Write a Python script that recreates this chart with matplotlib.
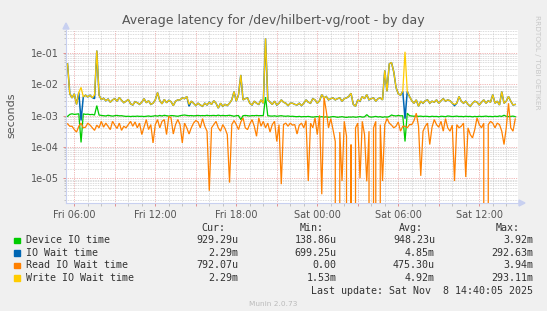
import numpy as np
import matplotlib
matplotlib.use('Agg')
import matplotlib.pyplot as plt
from matplotlib.patches import Rectangle, Polygon
from matplotlib.ticker import FixedLocator, FixedFormatter, NullFormatter

# ---------------- data (seconds), 10-minute samples from Fri 05:30 ----------------
start_hour = 5.5          # Fri 05:30, hours since Fri 00:00
step_hours = 1.0 / 6.0    # 10 minutes

device_io = [
    9.5e-4, 1.1e-3, 1.15e-3, 1.1e-3, 1.12e-3, 1.15e-3, 1.4e-4, 1.15e-3, 1.1e-3, 1.12e-3,
    1.08e-3, 1.1e-3, 1.05e-3, 2.1e-3, 1.05e-3, 1.02e-3, 1.0e-3, 9.8e-4, 1.03e-3, 1.0e-3,
    9.7e-4, 1.0e-3, 1.02e-3, 9.9e-4, 1.0e-3, 9.7e-4, 9.5e-4, 9.6e-4, 9.4e-4, 9.6e-4,
    9.5e-4, 9.7e-4, 9.5e-4, 9.6e-4, 9.4e-4, 9.6e-4, 9.8e-4, 9.5e-4, 9.7e-4, 1.0e-3,
    9.7e-4, 1.02e-3, 9.8e-4, 1.03e-3, 1.0e-3, 9.7e-4, 1.01e-3, 1.0e-3, 9.8e-4, 9.6e-4,
    1.0e-3, 1.03e-3, 1.05e-3, 1.02e-3, 1.0e-3, 1.01e-3, 9.9e-4, 1.0e-3, 1.02e-3, 1.0e-3,
    1.01e-3, 1.0e-3, 1.03e-3, 1.0e-3, 1.01e-3, 1.02e-3, 1.0e-3, 1.04e-3, 1.0e-3, 1.02e-3,
    1.0e-3, 1.01e-3, 1.03e-3, 1.0e-3, 9.6e-4, 1.0e-3, 1.01e-3, 7.5e-4, 1.0e-3, 1.02e-3,
    1.0e-3, 9.8e-4, 1.01e-3, 1.0e-3, 1.02e-3, 1.0e-3, 1.01e-3, 1.0e-3, 3.92e-3, 1.0e-3,
    9.8e-4, 9.7e-4, 9.9e-4, 9.6e-4, 9.8e-4, 1.0e-3, 9.7e-4, 9.6e-4, 9.8e-4, 9.5e-4,
    9.6e-4, 9.4e-4, 9.3e-4, 9.5e-4, 9.2e-4, 9.4e-4, 9.3e-4, 9.5e-4, 9.2e-4, 9.0e-4,
    9.2e-4, 9.4e-4, 9.1e-4, 9.3e-4, 9.0e-4, 9.2e-4, 8.9e-4, 9.1e-4, 9.4e-4, 9.2e-4,
    8.9e-4, 9.1e-4, 9.3e-4, 9.0e-4, 8.8e-4, 9.1e-4, 9.0e-4, 9.2e-4, 8.9e-4, 9.1e-4,
    9.4e-4, 9.0e-4, 9.2e-4, 1.08e-3, 9.3e-4, 9.0e-4, 9.2e-4, 9.5e-4, 9.1e-4, 9.3e-4,
    8.9e-4, 9.2e-4, 9.0e-4, 9.4e-4, 1.05e-3, 1.0e-3, 9.8e-4, 1.02e-3, 9.9e-4, 1.0e-3,
    1.5e-4, 1.2e-3, 1.0e-3, 9.8e-4, 9.6e-4, 9.8e-4, 9.5e-4, 9.7e-4, 9.4e-4, 9.6e-4,
    9.5e-4, 9.3e-4, 9.6e-4, 9.4e-4, 9.5e-4, 9.2e-4, 9.6e-4, 9.5e-4, 9.3e-4, 9.8e-4,
    9.6e-4, 9.4e-4, 9.5e-4, 9.7e-4, 9.4e-4, 9.5e-4, 9.3e-4, 9.6e-4, 9.4e-4, 9.5e-4,
    9.2e-4, 9.5e-4, 9.3e-4, 9.6e-4, 9.4e-4, 9.5e-4, 9.7e-4, 9.4e-4, 9.5e-4, 9.3e-4,
    9.6e-4, 9.4e-4, 9.8e-4, 9.5e-4, 1.03e-3, 9.6e-4, 9.4e-4, 9.5e-4, 9.7e-4, 9.29e-4,
]

io_wait = [
    4.5e-2, 5.0e-3, 3.7e-3, 5.0e-3, 2.3e-3, 5.5e-3, 7.0e-4, 4.0e-3, 4.5e-3, 4.0e-3,
    4.5e-3, 3.8e-3, 3.5e-3, 1.2e-1, 4.5e-3, 3.3e-3, 3.6e-3, 3.0e-3, 3.4e-3, 2.7e-3,
    3.2e-3, 3.5e-3, 2.9e-3, 3.8e-3, 3.1e-3, 2.6e-3, 2.9e-3, 3.3e-3, 2.4e-3, 2.2e-3,
    2.8e-3, 2.6e-3, 2.3e-3, 2.7e-3, 3.5e-3, 2.6e-3, 3.0e-3, 2.3e-3, 2.5e-3, 3.2e-3,
    5.5e-3, 3.0e-3, 2.4e-3, 3.3e-3, 2.6e-3, 3.1e-3, 2.8e-3, 2.1e-3, 2.9e-3, 3.2e-3,
    3.2e-3, 3.7e-3, 3.5e-3, 4.1e-3, 2.0e-3, 2.9e-3, 2.5e-3, 2.1e-3, 2.5e-3, 2.2e-3,
    2.0e-3, 2.5e-3, 2.2e-3, 2.7e-3, 2.3e-3, 3.0e-3, 2.5e-3, 1.75e-3, 2.5e-3, 2.0e-3,
    2.3e-3, 2.1e-3, 2.5e-3, 3.2e-3, 5.9e-3, 2.9e-3, 4.7e-3, 2.0e-2, 3.2e-3, 3.5e-3,
    3.7e-3, 2.5e-3, 2.2e-3, 2.9e-3, 2.5e-3, 2.3e-3, 3.2e-3, 2.5e-3, 2.926e-1, 3.2e-3,
    2.7e-3, 2.3e-3, 2.9e-3, 2.2e-3, 2.5e-3, 3.2e-3, 2.7e-3, 2.5e-3, 2.1e-3, 2.5e-3,
    2.5e-3, 2.3e-3, 2.2e-3, 2.5e-3, 2.1e-3, 2.5e-3, 3.2e-3, 2.7e-3, 2.5e-3, 3.5e-3,
    3.2e-3, 2.5e-3, 3.0e-3, 4.7e-3, 3.7e-3, 4.1e-3, 3.2e-3, 3.5e-3, 3.7e-3, 3.2e-3,
    3.5e-3, 3.7e-3, 2.9e-3, 3.5e-3, 3.7e-3, 4.1e-3, 5.2e-3, 2.3e-3, 2.0e-3, 3.2e-3,
    2.9e-3, 4.1e-3, 3.5e-3, 4.7e-3, 3.2e-3, 3.5e-3, 3.7e-3, 2.9e-3, 3.5e-3, 3.7e-3,
    3.2e-3, 2.8e-2, 6.0e-3, 4.5e-2, 5.0e-2, 2.5e-2, 8.0e-3, 5.0e-3, 4.5e-3, 6.0e-3,
    8.0e-4, 6.0e-3, 4.1e-3, 3.0e-3, 2.5e-3, 3.2e-3, 2.0e-3, 2.9e-3, 2.5e-3, 3.0e-3,
    3.2e-3, 2.5e-3, 2.9e-3, 2.7e-3, 3.2e-3, 2.5e-3, 3.0e-3, 3.5e-3, 2.9e-3, 3.2e-3,
    3.0e-3, 2.5e-3, 2.1e-3, 2.5e-3, 4.1e-3, 2.9e-3, 2.5e-3, 2.9e-3, 2.3e-3, 2.0e-3,
    2.5e-3, 2.9e-3, 2.7e-3, 2.2e-3, 2.7e-3, 3.2e-3, 2.5e-3, 3.0e-3, 2.7e-3, 4.7e-3,
    2.5e-3, 2.9e-3, 2.2e-3, 5.9e-3, 2.5e-3, 2.9e-3, 4.1e-3, 2.9e-3, 2.2e-3, 2.29e-3,
]

read_wait = [
    5.5e-4, 4.6e-4, 4.6e-4, 3.6e-4, 3.0e-4, 4.6e-4, 5.8e-4, 4.1e-4, 4.3e-4, 5.8e-4,
    5.0e-4, 4.1e-4, 3.4e-4, 5.0e-4, 4.1e-4, 6.6e-4, 4.3e-4, 5.8e-4, 4.6e-4, 3.6e-4,
    6.6e-4, 5.0e-4, 3.9e-4, 5.8e-4, 3.4e-4, 4.6e-4, 4.1e-4, 5.2e-4, 6.6e-4, 4.6e-4,
    6.3e-4, 4.1e-4, 5.8e-4, 2.5e-4, 4.3e-4, 7.5e-4, 3.6e-4, 5.2e-4, 1.35e-4, 5.2e-4,
    7.5e-4, 4.1e-4, 6.6e-4, 7.5e-4, 2.5e-4, 9.5e-4, 8.5e-4, 2.6e-4, 5.2e-4, 7.5e-4,
    5.2e-4, 1.35e-4, 5.8e-4, 4.1e-4, 2.6e-4, 4.1e-4, 5.8e-4, 7.0e-4, 6.3e-4, 4.1e-4,
    8.1e-4, 4.6e-4, 3.2e-4, 4.0e-6, 4.1e-4, 5.2e-4, 6.6e-4, 4.1e-4, 3.2e-4, 5.2e-4,
    3.9e-4, 2.5e-4, 7.3e-6, 5.2e-4, 7.0e-4, 5.2e-4, 3.6e-4, 6.3e-4, 8.5e-4, 4.1e-4,
    3.6e-4, 5.4e-4, 7.5e-4, 4.6e-4, 2.2e-4, 8.5e-4, 4.6e-4, 6.6e-4, 4.1e-4, 5.8e-4,
    3.0e-4, 5.2e-4, 6.6e-4, 1.5e-4, 5.2e-4, 6.5e-6, 5.2e-4, 5.8e-4, 4.6e-4, 5.8e-4,
    5.0e-4, 5.2e-4, 2.6e-4, 5.0e-4, 5.8e-4, 4.1e-4, 7.0e-4, 8.2e-6, 5.8e-4, 4.1e-4,
    8.5e-4, 2.5e-4, 1.03e-3, 3.1e-6, 3.94e-3, 1.4e-3, 4.1e-4, 8.1e-4, 3.6e-4, 1.5e-4,
    0.0, 3.0e-4, 8.2e-6, 6.6e-4, 2.2e-4, 0.0, 1.2e-4, 0.0, 4.1e-4, 5.8e-4,
    1.0e-5, 6.6e-4, 2.5e-4, 8.0e-6, 3.2e-4, 0.0, 4.1e-4, 6.6e-4, 0.0, 5.2e-4,
    8.2e-6, 5.2e-4, 8.1e-4, 5.8e-4, 5.0e-4, 4.1e-4, 4.6e-4, 6.3e-4, 3.2e-4, 4.6e-4,
    4.6e-4, 4.1e-4, 5.2e-4, 5.2e-4, 7.0e-4, 1.2e-3, 4.6e-4, 1.2e-5, 3.2e-4, 4.6e-4,
    5.8e-4, 1.2e-4, 4.3e-4, 7.5e-4, 5.2e-4, 4.3e-4, 6.6e-4, 3.2e-4, 8.1e-4, 4.1e-4,
    3.2e-4, 5.0e-4, 8.2e-6, 5.2e-4, 4.1e-4, 4.6e-4, 5.8e-4, 1.1e-5, 4.1e-4, 2.5e-4,
    1.95e-4, 3.6e-4, 8.5e-4, 5.2e-4, 4.1e-4, 5.8e-4, 0.0, 5.2e-4, 6.6e-4, 5.8e-4,
    4.1e-4, 5.8e-4, 5.2e-4, 3.2e-4, 1.2e-4, 4.1e-4, 2.5e-3, 4.1e-4, 3.2e-4, 7.9e-4,
]

write_wait = [
    4.5e-2, 5.0e-3, 3.7e-3, 5.0e-3, 2.3e-3, 5.5e-3, 8.0e-3, 4.0e-3, 4.5e-3, 4.0e-3,
    4.5e-3, 3.8e-3, 4.6e-3, 1.2e-1, 4.5e-3, 3.3e-3, 3.6e-3, 3.0e-3, 3.4e-3, 2.7e-3,
    3.2e-3, 3.5e-3, 2.9e-3, 3.8e-3, 3.1e-3, 2.6e-3, 2.9e-3, 3.3e-3, 2.4e-3, 2.2e-3,
    2.8e-3, 2.6e-3, 2.3e-3, 2.7e-3, 3.5e-3, 2.6e-3, 3.0e-3, 2.3e-3, 2.5e-3, 3.2e-3,
    5.5e-3, 3.0e-3, 2.4e-3, 3.3e-3, 2.6e-3, 3.1e-3, 2.8e-3, 2.1e-3, 2.9e-3, 3.2e-3,
    3.2e-3, 3.7e-3, 3.5e-3, 4.1e-3, 2.3e-3, 2.9e-3, 2.5e-3, 2.1e-3, 2.5e-3, 2.2e-3,
    2.0e-3, 2.5e-3, 2.2e-3, 2.7e-3, 2.3e-3, 3.0e-3, 2.5e-3, 1.75e-3, 2.5e-3, 2.0e-3,
    2.3e-3, 2.1e-3, 2.5e-3, 3.2e-3, 5.9e-3, 2.9e-3, 4.7e-3, 2.0e-2, 3.2e-3, 3.5e-3,
    3.7e-3, 2.5e-3, 2.2e-3, 2.9e-3, 2.5e-3, 2.3e-3, 3.2e-3, 2.5e-3, 2.931e-1, 3.2e-3,
    2.7e-3, 2.3e-3, 2.9e-3, 2.2e-3, 2.5e-3, 3.2e-3, 2.7e-3, 2.5e-3, 2.1e-3, 2.5e-3,
    2.5e-3, 2.3e-3, 2.2e-3, 2.5e-3, 2.1e-3, 2.5e-3, 3.2e-3, 2.7e-3, 2.5e-3, 3.5e-3,
    3.2e-3, 2.5e-3, 3.0e-3, 4.7e-3, 3.7e-3, 4.1e-3, 3.2e-3, 3.5e-3, 3.7e-3, 3.2e-3,
    3.5e-3, 3.7e-3, 2.9e-3, 3.5e-3, 3.7e-3, 4.1e-3, 5.2e-3, 2.3e-3, 2.0e-3, 3.2e-3,
    2.9e-3, 4.1e-3, 3.5e-3, 4.7e-3, 3.2e-3, 3.5e-3, 3.7e-3, 2.9e-3, 3.5e-3, 3.7e-3,
    3.2e-3, 2.8e-2, 6.0e-3, 4.5e-2, 5.0e-2, 2.5e-2, 8.0e-3, 5.0e-3, 4.5e-3, 6.0e-3,
    1.1e-1, 6.0e-3, 4.1e-3, 3.0e-3, 2.5e-3, 3.2e-3, 2.0e-3, 2.9e-3, 2.5e-3, 3.0e-3,
    3.2e-3, 2.5e-3, 2.9e-3, 2.7e-3, 3.2e-3, 2.5e-3, 3.0e-3, 3.5e-3, 2.9e-3, 3.2e-3,
    3.0e-3, 2.5e-3, 2.3e-3, 2.5e-3, 4.1e-3, 2.9e-3, 2.5e-3, 2.9e-3, 2.3e-3, 2.0e-3,
    2.5e-3, 2.9e-3, 2.7e-3, 2.2e-3, 2.7e-3, 3.2e-3, 2.5e-3, 3.0e-3, 2.7e-3, 4.7e-3,
    2.5e-3, 2.9e-3, 2.2e-3, 5.9e-3, 2.5e-3, 2.9e-3, 4.1e-3, 2.9e-3, 2.2e-3, 2.29e-3,
]

series_names = ["Device IO time", "IO Wait time", "Read IO Wait time", "Write IO Wait time"]
series_colors = ["#00CC00", "#0066B3", "#FF8000", "#FFCC00"]
cur_vals = ["929.29u", "2.29m", "792.07u", "2.29m"]
min_vals = ["138.86u", "699.25u", "0.00", "1.53m"]
avg_vals = ["948.23u", "4.85m", "475.30u", "4.92m"]
max_vals = ["3.92m", "292.63m", "3.94m", "293.11m"]

x_tick_hours = [6, 12, 18, 24, 30, 36]
x_tick_labels = ["Fri 06:00", "Fri 12:00", "Fri 18:00", "Sat 00:00", "Sat 06:00", "Sat 12:00"]
y_tick_values = [1e-5, 1e-4, 1e-3, 1e-2, 1e-1]
y_tick_labels = ["1e-05", "1e-04", "1e-03", "1e-02", "1e-01"]

# ---------------- figure ----------------
W, H = 547, 311
fig = plt.figure(figsize=(W / 100, H / 100), dpi=100, facecolor='#F0F0F0')


def fx(px):
    return px / W


def fy(py):
    return 1 - py / H


L, R, T, B = 66, 518, 30, 203
ax = fig.add_axes([fx(L), fy(B), (R - L) / W, (B - T) / H])
ax.set_facecolor('white')
ax.set_yscale('log', nonpositive='clip')
ax.set_xlim(5.385, 38.87)
ax.set_ylim(1.63e-6, 0.545)

hours = start_hour + step_hours * np.arange(len(device_io))
line_widths = [0.9, 1.1, 0.9, 0.9]
for vals, col, lw in zip([device_io, io_wait, read_wait, write_wait], series_colors, line_widths):
    ax.plot(hours, vals, color=col, lw=lw, solid_joinstyle='miter', zorder=3)

# grid
ax.xaxis.set_major_locator(FixedLocator(np.arange(6, 39, 3)))
ax.xaxis.set_minor_locator(FixedLocator(np.arange(6, 39, 1)))
maj_lbls = []
for h in np.arange(6, 39, 3):
    maj_lbls.append(x_tick_labels[x_tick_hours.index(h)] if h in x_tick_hours else '')
ax.xaxis.set_major_formatter(FixedFormatter(maj_lbls))
ax.xaxis.set_minor_formatter(NullFormatter())

ax.yaxis.set_major_locator(FixedLocator(y_tick_values))
ax.yaxis.set_major_formatter(FixedFormatter(y_tick_labels))
minor_y = [m * 10.0 ** e for e in range(-6, 0) for m in range(2, 10)]
ax.yaxis.set_minor_locator(FixedLocator(minor_y))
ax.yaxis.set_minor_formatter(NullFormatter())

ax.grid(which='minor', color='#C4C4C4', linestyle=(0, (0.8, 1.2)), linewidth=0.6, zorder=1)
ax.grid(which='major', color='#EB9A9A', linestyle=(0, (0.8, 1.2)), linewidth=0.65, zorder=1.5)
ax.set_axisbelow(True)

for s in ['top', 'right']:
    ax.spines[s].set_visible(False)
for s in ['left', 'bottom']:
    ax.spines[s].set_color('#C8D0F0')
    ax.spines[s].set_linewidth(0.8)

ax.tick_params(which='major', axis='x', length=2, width=0.6, color='#E08080',
               labelsize=7, labelcolor='#555555', pad=3)
ax.tick_params(which='minor', axis='x', length=2, width=0.6, color='#BBBBBB')
ax.tick_params(which='major', axis='y', length=2, width=0.6, color='#E08080',
               labelsize=7, labelcolor='#555555', pad=3)
ax.tick_params(which='minor', axis='y', length=1.5, width=0.6, color='#BBBBBB')

# axis arrows
arrow_col = '#C8D0F0'
fig.patches.append(Polygon([[fx(L - 3), fy(T - 1)], [fx(L + 3), fy(T - 1)], [fx(L), fy(T - 7)]],
                           closed=True, transform=fig.transFigure, color=arrow_col))
fig.patches.append(Polygon([[fx(R + 1), fy(B - 3)], [fx(R + 1), fy(B + 3)], [fx(R + 7), fy(B)]],
                           closed=True, transform=fig.transFigure, color=arrow_col))

# title, axis label, watermark
fig.text(fx(273), fy(20.5), "Average latency for /dev/hilbert-vg/root - by day",
         ha='center', va='center', fontsize=9, color='#555555')
fig.text(fx(11), fy(115), "seconds", rotation=90, ha='center', va='center',
         fontsize=8, color='#555555')
fig.text(fx(537.5), fy(62), "RRDTOOL / TOBI OETIKER", rotation=270, ha='center', va='center',
         fontsize=5.3, color='#C8C8C8')

# legend block
mono = 'DejaVu Sans Mono'
lfs = 7.2
tc = '#333333'
fig.text(fx(225), fy(228), "Cur:", ha='right', va='center', family=mono, fontsize=lfs, color=tc)
fig.text(fx(324), fy(228), "Min:", ha='right', va='center', family=mono, fontsize=lfs, color=tc)
fig.text(fx(422.7), fy(228), "Avg:", ha='right', va='center', family=mono, fontsize=lfs, color=tc)
fig.text(fx(520), fy(228), "Max:", ha='right', va='center', family=mono, fontsize=lfs, color=tc)

row_y = [240.3, 252.9, 265.4, 278.0]
for name, col, c, mn, av, mx, y in zip(series_names, series_colors, cur_vals, min_vals,
                                       avg_vals, max_vals, row_y):
    fig.patches.append(Rectangle((fx(14), fy(y + 2.8)), 5.6 / W, 5.6 / H,
                                 transform=fig.transFigure, color=col))
    fig.text(fx(26), fy(y), name, ha='left', va='center', family=mono, fontsize=lfs, color=tc)
    fig.text(fx(238), fy(y), c, ha='right', va='center', family=mono, fontsize=lfs, color=tc)
    fig.text(fx(336.6), fy(y), mn, ha='right', va='center', family=mono, fontsize=lfs, color=tc)
    fig.text(fx(435), fy(y), av, ha='right', va='center', family=mono, fontsize=lfs, color=tc)
    fig.text(fx(533), fy(y), mx, ha='right', va='center', family=mono, fontsize=lfs, color=tc)

fig.text(fx(533), fy(290.6), "Last update: Sat Nov  8 14:40:05 2025", ha='right', va='center',
         family=mono, fontsize=lfs, color=tc)
fig.text(fx(273), fy(303.8), "Munin 2.0.73", ha='center', va='center', fontsize=5.3,
         color='#BBBBBB')

fig.savefig('out.png', dpi=100, facecolor=fig.get_facecolor())
